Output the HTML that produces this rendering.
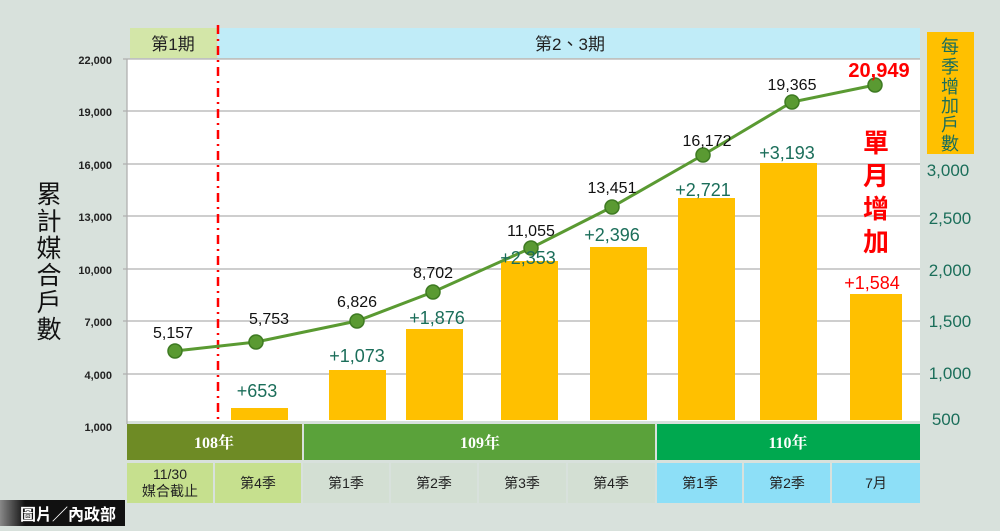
<!DOCTYPE html><html><head><meta charset="utf-8"><style>
body{margin:0;width:1000px;height:526px;background:#d8e1dc;overflow:hidden;font-family:"Liberation Sans","Noto Sans CJK TC",sans-serif;}
</style></head><body>
<svg width="1000" height="526" xmlns="http://www.w3.org/2000/svg" font-family="Liberation Sans, Noto Sans CJK TC, sans-serif">
<rect x="127" y="59" width="793" height="362" fill="#fff"/>
<rect x="130" y="28" width="87" height="30" fill="#d3e6a8"/>
<rect x="218" y="28" width="702" height="30" fill="#c0ecf8"/>
<text x="173" y="50" font-size="17" text-anchor="middle" fill="#222">第1期</text>
<text x="570" y="50" font-size="17" text-anchor="middle" fill="#222">第2、3期</text>
<g stroke="#b0b0b0" stroke-width="1.3">
<line x1="123" y1="59" x2="920" y2="59"/><line x1="123" y1="111" x2="920" y2="111"/>
<line x1="123" y1="164" x2="920" y2="164"/><line x1="123" y1="216" x2="920" y2="216"/>
<line x1="123" y1="269" x2="920" y2="269"/><line x1="123" y1="321" x2="920" y2="321"/>
<line x1="123" y1="374" x2="920" y2="374"/><line x1="127" y1="59" x2="127" y2="424"/>
</g>
<g font-size="11" fill="#222" text-anchor="end" font-weight="bold">
<text x="112" y="64">22,000</text><text x="112" y="116">19,000</text><text x="112" y="169">16,000</text>
<text x="112" y="221">13,000</text><text x="112" y="274">10,000</text><text x="112" y="326">7,000</text>
<text x="112" y="379">4,000</text><text x="112" y="431">1,000</text>
</g>
<g font-size="25" fill="#111" text-anchor="middle">
<text x="49" y="203">累</text><text x="49" y="230">計</text><text x="49" y="257">媒</text>
<text x="49" y="284">合</text><text x="49" y="311">戶</text><text x="49" y="338">數</text>
</g>
<g fill="#ffc000">
<rect x="231" y="408" width="57" height="12"/><rect x="329" y="370" width="57" height="50"/>
<rect x="406" y="329" width="57" height="91"/><rect x="501" y="261" width="57" height="159"/>
<rect x="590" y="247" width="57" height="173"/><rect x="678" y="198" width="57" height="222"/>
<rect x="760" y="163" width="57" height="257"/><rect x="850" y="294" width="52" height="126"/>
</g>
<line x1="218" y1="25" x2="218" y2="424" stroke="#f00" stroke-width="2.5" stroke-dasharray="9,5,2,5"/>
<polyline points="175,351 256,342 357,321 433,292 531,248 612,207 703,155 792,102 875,85" fill="none" stroke="#5a9a32" stroke-width="3"/>
<g fill="#5a9a32" stroke="#3e7a22" stroke-width="1.5">
<circle cx="175" cy="351" r="7"/><circle cx="256" cy="342" r="7"/><circle cx="357" cy="321" r="7"/>
<circle cx="433" cy="292" r="7"/><circle cx="531" cy="248" r="7"/><circle cx="612" cy="207" r="7"/>
<circle cx="703" cy="155" r="7"/><circle cx="792" cy="102" r="7"/><circle cx="875" cy="85" r="7"/>
</g>
<g font-size="16" fill="#111" text-anchor="middle">
<text x="173" y="338">5,157</text><text x="269" y="324">5,753</text><text x="357" y="307">6,826</text>
<text x="433" y="278">8,702</text><text x="531" y="236">11,055</text><text x="612" y="193">13,451</text>
<text x="707" y="146">16,172</text><text x="792" y="90">19,365</text>
</g>
<text x="879" y="77" font-size="20" font-weight="bold" fill="#f00" text-anchor="middle">20,949</text>
<g font-size="18" fill="#1b6e5a" text-anchor="middle">
<text x="257" y="397">+653</text><text x="357" y="362">+1,073</text><text x="437" y="324">+1,876</text>
<text x="528" y="264">+2,353</text><text x="612" y="241">+2,396</text><text x="703" y="196">+2,721</text>
<text x="787" y="159">+3,193</text>
</g>
<text x="872" y="289" font-size="18" fill="#f00" text-anchor="middle">+1,584</text>
<g font-size="26" fill="#f00" text-anchor="middle" font-weight="bold">
<text x="876" y="152">單</text><text x="876" y="185">月</text><text x="876" y="218">增</text><text x="876" y="251">加</text>
</g>
<rect x="927" y="32" width="47" height="122" fill="#ffc000"/>
<g font-size="18" fill="#1b6e5a" text-anchor="middle">
<text x="950" y="53">每</text><text x="950" y="73">季</text><text x="950" y="93">增</text>
<text x="950" y="112">加</text><text x="950" y="131">戶</text><text x="950" y="150">數</text>
</g>
<g font-size="17" fill="#1b6e5a" text-anchor="middle">
<text x="948" y="176">3,000</text><text x="950" y="224">2,500</text><text x="950" y="276">2,000</text>
<text x="950" y="327">1,500</text><text x="950" y="379">1,000</text><text x="946" y="425">500</text>
</g>
<rect x="127" y="424" width="175" height="36" fill="#6e8b25"/>
<rect x="304" y="424" width="351" height="36" fill="#5aa23a"/>
<rect x="657" y="424" width="263" height="36" fill="#00a84f"/>
<g font-size="16" font-weight="bold" fill="#fff" text-anchor="middle" font-family="Liberation Serif, Noto Serif CJK SC, serif">
<text x="214" y="448">108年</text><text x="480" y="448">109年</text><text x="788" y="448">110年</text>
</g>
<g>
<rect x="127" y="463" width="86" height="40" fill="#c6e08e"/><rect x="215" y="463" width="86" height="40" fill="#c6e08e"/>
<rect x="303" y="463" width="86" height="40" fill="#d3dfd3"/><rect x="391" y="463" width="86" height="40" fill="#d3dfd3"/>
<rect x="479" y="463" width="87" height="40" fill="#d3dfd3"/><rect x="568" y="463" width="87" height="40" fill="#d3dfd3"/>
<rect x="657" y="463" width="85" height="40" fill="#8ddff7"/><rect x="744" y="463" width="86" height="40" fill="#8ddff7"/>
<rect x="832" y="463" width="88" height="40" fill="#8ddff7"/>
</g>
<g font-size="14" fill="#222" text-anchor="middle">
<text x="170" y="479">11/30</text><text x="170" y="496">媒合截止</text>
<text x="258" y="488">第4季</text><text x="346" y="488">第1季</text><text x="434" y="488">第2季</text>
<text x="522" y="488">第3季</text><text x="611" y="488">第4季</text><text x="700" y="488">第1季</text>
<text x="787" y="488">第2季</text><text x="876" y="488">7月</text>
</g>
<defs><linearGradient id="g" x1="0" x2="1"><stop offset="0" stop-color="#888"/><stop offset="0.2" stop-color="#111"/></linearGradient></defs>
<rect x="0" y="500" width="125" height="26" fill="url(#g)"/>
<text x="20" y="520" font-size="16" font-weight="bold" fill="#fff">圖片／內政部</text>
</svg>
</body></html>
